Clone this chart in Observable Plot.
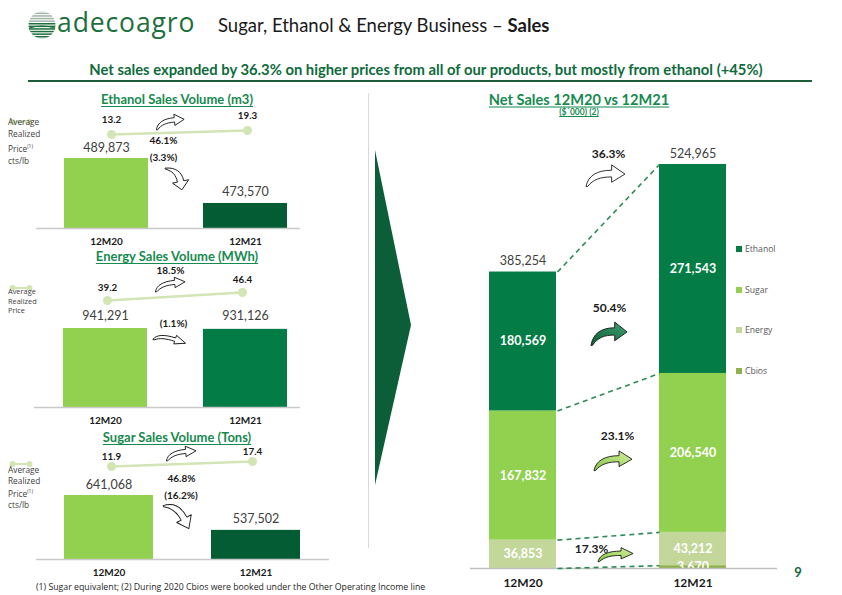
<!DOCTYPE html>
<html><head><meta charset="utf-8">
<script src="https://cdn.jsdelivr.net/npm/d3@7"></script>
<script src="https://cdn.jsdelivr.net/npm/@observablehq/plot@0.6"></script>
<style>
body{margin:0;background:#fff;}
#page{position:relative;width:842px;height:595px;overflow:hidden;font-family:Lato,"Open Sans",sans-serif;color:#262626;}
#page svg{overflow:visible;}
.c{position:absolute;white-space:nowrap;transform:translate(-50%,-50%);}
.l{position:absolute;white-space:nowrap;}
</style></head><body><div id="page"></div>
<script>
// ---------------- DATA ----------------
const periods = ["12M20", "12M21"];

const ethanolTitle = "Ethanol Sales Volume (m3)";
const ethanolVolume = [489873, 473570];
const ethanolPrice = [13.2, 19.3];
const ethanolPriceChange = "46.1%";
const ethanolVolumeChange = "(3.3%)";

const energyTitle = "Energy Sales Volume (MWh)";
const energyVolume = [941291, 931126];
const energyPrice = [39.2, 46.4];
const energyPriceChange = "18.5%";
const energyVolumeChange = "(1.1%)";

const sugarTitle = "Sugar Sales Volume (Tons)";
const sugarVolume = [641068, 537502];
const sugarPrice = [11.9, 17.4];
const sugarPriceChange = "46.8%";
const sugarVolumeChange = "(16.2%)";

const salesSeries = ["Ethanol", "Sugar", "Energy", "Cbios"];
const sales12M20 = [180569, 167832, 36853, 0];
const sales12M21 = [271543, 206540, 43212, 3670];
const salesTotals = [385254, 524965];
const salesTotalChange = "36.3%";
const salesSeriesChange = ["50.4%", "23.1%", "17.3%"]; // Ethanol, Sugar, Energy

// ---------------- STYLE ----------------
const GREEN_TEXT = "#178a4f";
const DARK = "#0e6b3b";
const LIGHT_BAR = "#92d050";
const PRICE_COLOR = "#d3e4b5";
const seriesColors = ["#047c45", "#92d050", "#c4d79b", "#8fb04c"];
const fmt = d3.format(",");
const page = document.getElementById("page");

function addHTML(html, cls, css) {
  const d = document.createElement("div");
  d.className = cls; d.innerHTML = html; d.style.cssText += css;
  page.appendChild(d); return d;
}
function addSVG(svg, left, top) {
  svg.style.position = "absolute"; svg.style.left = left + "px"; svg.style.top = top + "px";
  page.appendChild(svg);
}
// decorative clip-art style curved block arrow
let gid = 0;
function curvedArrow(cx, cy, w, h, rot, c1, c2) {
  const id = "g" + (gid++);
  addHTML(`<svg width="${w}" height="${h}" viewBox="0 0 40 24" preserveAspectRatio="none">
    <defs><linearGradient id="${id}" x1="0" y1="1" x2="1" y2="0"><stop offset="0" stop-color="${c1}"/><stop offset="1" stop-color="${c2}"/></linearGradient></defs>
    <path d="M1,23.5 C3,12 12,6.5 26,6.5 L26,1 L39,10.5 L26,19 L26,13.5 C15,13.5 8,16 2.5,23.5 Z" fill="url(#${id})" stroke="#1a1a1a" stroke-width="0.9" vector-effect="non-scaling-stroke" stroke-linejoin="round"/></svg>`,
    "l", `left:${cx - w / 2}px;top:${cy - h / 2}px;width:${w}px;height:${h}px;transform:rotate(${rot}deg);line-height:0;`);
}

// ---------------- HEADER ----------------
addHTML(`<svg width="30" height="30" viewBox="0 0 30 30"><defs><clipPath id="lg"><circle cx="15" cy="15" r="13.5"/></clipPath></defs>
<g clip-path="url(#lg)">${d3.range(0, 30, 2.6).map((y, i) => `<rect x="0" y="${y}" width="30" height="1.5" fill="${i < 5 ? "#9fb3a5" : "#1d6f3d"}"/>`).join("")}
<path d="M2 18 Q15 14 28 18 L28 30 L2 30Z" fill="none" stroke="#1d6f3d" stroke-width="1.2"/></g></svg>`, "l", "left:27px;top:10px;");
addHTML("adecoagro", "l", `left:57px;top:4px;font-size:26.5px;line-height:36px;color:#1d6f3d;letter-spacing:0.9px;font-family:'Open Sans',sans-serif;`);
addHTML("Sugar, Ethanol &amp; Energy Business – <b>Sales</b>", "l", "left:218px;top:14px;font-size:18.5px;color:#1a1a1a;");
addHTML("Net sales expanded by 36.3% on higher prices from all of our products, but mostly from ethanol (+45%)", "c",
  `left:426px;top:69px;font-size:14.8px;font-weight:700;color:${DARK};`);
addHTML("", "l", `left:28px;top:80px;width:784px;height:1.5px;background:#1e5d3a;`);

// separator + wedge
addHTML("", "l", "left:368px;top:93px;width:1px;height:455px;background:#d9d9d9;");
addHTML(`<svg width="40" height="340"><polygon points="0,0 36,175 0,335" fill="#0b5e37"/></svg>`, "l", "left:375px;top:150px;");

// ---------------- LEFT PANELS ----------------
function volumePanel(cfg) {
  const {title, titleY, volume, price, priceChange, volumeChange, color2, v0,
         left, right, top, baseline, barTop, band, pad, priceX, priceY, legend, legendTop, legendFont, legendLH, iconY,
         lab, pctVol} = cfg;
  const W = right - left, H = baseline + 24 - top, MB = H - (baseline - top);
  addHTML(title, "c", `left:177px;top:${titleY}px;font-size:13px;font-weight:700;color:${GREEN_TEXT};text-decoration:underline;text-underline-offset:2px;`);
  addHTML(`<svg width="24" height="8"><line x1="3" y1="4" x2="21" y2="4" stroke="${PRICE_COLOR}" stroke-width="2"/><circle cx="3.5" cy="4" r="3" fill="${PRICE_COLOR}"/><circle cx="20.5" cy="4" r="3" fill="${PRICE_COLOR}"/></svg>`,
    "l", `left:9px;top:${iconY - 4}px;`);
  addHTML(legend, "l", `left:8px;top:${legendTop}px;font-size:${legendFont}px;line-height:${legendLH}px;color:#404040;font-family:'Open Sans',sans-serif;`);

  const rows = periods.map((p, i) => ({period: p, value: volume[i], fill: i === 0 ? LIGHT_BAR : color2}));
  const change = [{from: periods[0], a: volume[0], label: volumeChange}];
  const bars = Plot.plot({
    width: W, height: H, margin: 0, marginBottom: MB,
    style: {background: "none", fontFamily: "Lato, sans-serif", fontSize: "10px", fontWeight: "700", color: "#1a1a1a", overflow: "visible"},
    x: {type: "band", domain: periods, range: [band[0] - left, band[1] - left], paddingInner: pad, paddingOuter: 0,
        tickSize: 0, tickPadding: 9, label: null},
    y: {domain: [v0, volume[0]], range: [baseline - top, barTop - top], axis: null},
    color: {type: "identity"},
    marks: [
      Plot.barY(rows, {x: "period", y1: () => v0, y2: "value", fill: "fill"}),
      Plot.ruleY([v0], {stroke: "#c9c9c9", strokeWidth: 1.5}),
      Plot.text(rows, {x: "period", y: "value", text: d => fmt(d.value), dy: lab, fontSize: 12.5, fontWeight: "normal", fill: "#404040"}),
      Plot.text(change, {x: "from", y: "a", text: "label", dx: pctVol[0], dy: pctVol[1], fontSize: 10, fill: "#1a1a1a"})
    ]
  });
  addSVG(bars, left, top);

  const prow = periods.map((p, i) => ({period: p, price: price[i]}));
  const pchange = [{from: periods[0], a: price[0], label: priceChange}];
  const priceSvg = Plot.plot({
    width: W, height: H, margin: 0,
    style: {background: "none", fontFamily: "Lato, sans-serif", fontSize: "9.8px", fontWeight: "700", color: "#1a1a1a", overflow: "visible"},
    x: {type: "point", domain: periods, range: [priceX[0] - left, priceX[1] - left], padding: 0, axis: null},
    y: {domain: price, range: [priceY[0] - top, priceY[1] - top], axis: null},
    marks: [
      Plot.line(prow, {x: "period", y: "price", stroke: PRICE_COLOR, strokeWidth: 2.5}),
      Plot.dot(prow, {x: "period", y: "price", r: 4.5, fill: PRICE_COLOR}),
      Plot.text(prow, {x: "period", y: "price", text: d => d.price.toFixed(1), dy: cfg.priceLab}),
      Plot.text(pchange, {x: "from", y: "a", text: "label", dx: cfg.pctPrice[0], dy: cfg.pctPrice[1], fontSize: 10})
    ]
  });
  addSVG(priceSvg, left, top);
}

const legend4 = "Average<br>Realized<br>Price<sup style='font-size:5px'>(1)</sup><br>cts/lb";

volumePanel({
  title: ethanolTitle, titleY: 99, volume: ethanolVolume, price: ethanolPrice, priceChange: ethanolPriceChange, volumeChange: ethanolVolumeChange,
  color2: "#035c34", v0: 464500, left: 36, right: 300, top: 106, baseline: 228, barTop: 158, band: [64, 287], pad: 0.396,
  priceX: [111, 247], priceY: [134, 130], legend: legend4, legendTop: 116, legendFont: 8.3, legendLH: 12, iconY: 114,
  lab: -11, priceLab: -15, pctPrice: [52, 6], pctVol: [57, -1]
});
volumePanel({
  title: energyTitle, titleY: 256, volume: energyVolume, price: energyPrice, priceChange: energyPriceChange, volumeChange: energyVolumeChange,
  color2: "#047c45", v0: 0, left: 34, right: 300, top: 266, baseline: 407, barTop: 328, band: [62, 288], pad: 0.397,
  priceX: [107, 242], priceY: [300, 292], legend: "Average<br>Realized<br>Price", legendTop: 287, legendFont: 7.4, legendLH: 9.6, iconY: 280,
  lab: -13, priceLab: -13, pctPrice: [63, -30], pctVol: [68, -5]
});
volumePanel({
  title: sugarTitle, titleY: 437, volume: sugarVolume, price: sugarPrice, priceChange: sugarPriceChange, volumeChange: sugarVolumeChange,
  color2: "#035c34", v0: 451000, left: 36, right: 329, top: 446, baseline: 559, barTop: 495, band: [64, 300], pad: 0.395,
  priceX: [111, 252], priceY: [466, 461], legend: legend4, legendTop: 464, legendFont: 8.3, legendLH: 11, iconY: 456,
  lab: -11, priceLab: -9.5, pctPrice: [70, 12], pctVol: [72, 0]
});

// decorative curved arrows (left panels)
curvedArrow(170, 121, 30, 15, -5, "#ffffff", "#ffffff");
curvedArrow(178, 178, 26, 22, 78, "#ffffff", "#ffffff");
curvedArrow(170, 284, 32, 14, -5, "#ffffff", "#ffffff");
curvedArrow(170, 339, 34, 12, 18, "#ffffff", "#ffffff");
curvedArrow(181, 453, 32, 14, -5, "#ffffff", "#ffffff");
curvedArrow(180, 515, 34, 22, 62, "#ffffff", "#ffffff");

addHTML("(1) Sugar equivalent; (2) During 2020 Cbios were booked under the Other Operating Income line", "l",
  "left:36px;top:581px;font-size:8.75px;color:#262626;font-family:'Open Sans',sans-serif;");

// ---------------- RIGHT CHART ----------------
addHTML("Net Sales 12M20 vs 12M21", "c", `left:579px;top:99px;font-size:14.6px;font-weight:700;color:${GREEN_TEXT};text-decoration:underline;text-underline-offset:2px;`);
addHTML("($´000) (2)", "c", `left:579px;top:112px;font-size:8.5px;font-weight:700;color:${GREEN_TEXT};text-decoration:underline;`);

const stackOrder = salesSeries.slice().reverse(); // bottom to top
const salesRows = [];
periods.forEach((p, pi) => {
  const vals = pi === 0 ? sales12M20 : sales12M21;
  let acc = 0;
  stackOrder.forEach(s => {
    const v = vals[salesSeries.indexOf(s)];
    salesRows.push({period: p, series: s, value: v, y1: acc, y2: acc + v, mid: acc + v / 2});
    acc += v;
  });
});
const seg = (p, s) => salesRows.find(d => d.period === p && d.series === s);

const RL = 470, RR = 777, RT = 140, RB = 568, RH = 450;
const yScale = {domain: [0, salesTotals[1]], range: [RB - RT, 164 - RT]};
const right = Plot.plot({
  width: RR - RL, height: RH, margin: 0, marginBottom: RT + RH - RB,
  style: {background: "none", fontFamily: "Lato, sans-serif", fontSize: "12px", fontWeight: "700", color: "#1a1a1a", overflow: "visible"},
  x: {type: "band", domain: periods, range: [489 - RL, 726 - RL], paddingInner: 0.606, paddingOuter: 0, tickSize: 0, tickPadding: 10, label: null},
  y: {...yScale, axis: null},
  color: {domain: salesSeries, range: seriesColors},
  marks: [
    Plot.barY(salesRows, {x: "period", y1: "y1", y2: "y2", fill: "series"}),
    Plot.text(salesRows.filter(d => d.value > 0), {x: "period", y: "mid", text: d => fmt(d.value), fill: "white", fontSize: 12.5, fontWeight: "700"}),
    Plot.ruleY([0], {stroke: "#bfbfbf", strokeWidth: 1.5}),
    Plot.text(periods.map((p, i) => ({period: p, total: salesTotals[i]})), {x: "period", y: "total", text: d => fmt(d.total), dy: -11, fontSize: 12.5, fontWeight: "normal", fill: "#404040"})
  ]
});
addSVG(right, RL, RT);

// overlay: dashed connectors & growth labels
const xMid = ["12M20", "Δ", "12M21"];
const links = stackOrder.map(s => ({series: s, from: periods[0], to: periods[1], a: seg(periods[0], s).y2, b: seg(periods[1], s).y2}));
const growth = [
  {label: salesTotalChange, a: salesTotals[1]},
  ...["Ethanol", "Sugar", "Energy"].map((s, i) => ({label: salesSeriesChange[i], a: seg(periods[0], s).mid}))
];
const pctText = (d, opts) => Plot.text([d], {x: () => "Δ", y: "a", text: "label", fontSize: 12, fill: "#1a1a1a", ...opts});
const overlay = Plot.plot({
  width: RR - RL, height: RH, margin: 0,
  style: {background: "none", fontFamily: "Lato, sans-serif", fontSize: "12px", fontWeight: "700", overflow: "visible"},
  x: {type: "point", domain: xMid, range: [556 - RL, 659 - RL], padding: 0, axis: null},
  y: {...yScale, axis: null},
  marks: [
    Plot.link(links, {x1: "from", x2: "to", y1: "a", y2: "b", stroke: "#2e8b57", strokeWidth: 1.6, strokeDasharray: "5,4"}),
    pctText(growth[0], {dy: -10}),
    pctText(growth[1], {dy: -33, dx: 1}),
    pctText(growth[2], {dy: -39, dx: 9}),
    pctText(growth[3], {dy: -5, dx: -17})
  ]
});
addSVG(overlay, RL, RT);

// decorative curved arrows (right chart)
curvedArrow(605, 175, 41, 23, 0, "#ffffff", "#ffffff");
curvedArrow(609, 333, 38, 25, 0, "#0b5e37", "#3fa070");
curvedArrow(613, 460, 40, 21, 0, "#86c440", "#d4efa0");
curvedArrow(615, 554, 37, 15, 0, "#86c440", "#d4efa0");

// legend
salesSeries.forEach((s, i) => {
  addHTML(`<span style="display:inline-block;width:6px;height:6px;background:${seriesColors[i]};margin-right:3px;vertical-align:0px"></span>${s}`,
    "l", `left:736px;top:${243 + i * 40.7}px;font-size:8.6px;color:#595959;font-family:'Open Sans',sans-serif;`);
});

addHTML("9", "c", `left:798px;top:572px;font-size:13px;font-weight:700;color:${DARK};`);
</script></body></html>
